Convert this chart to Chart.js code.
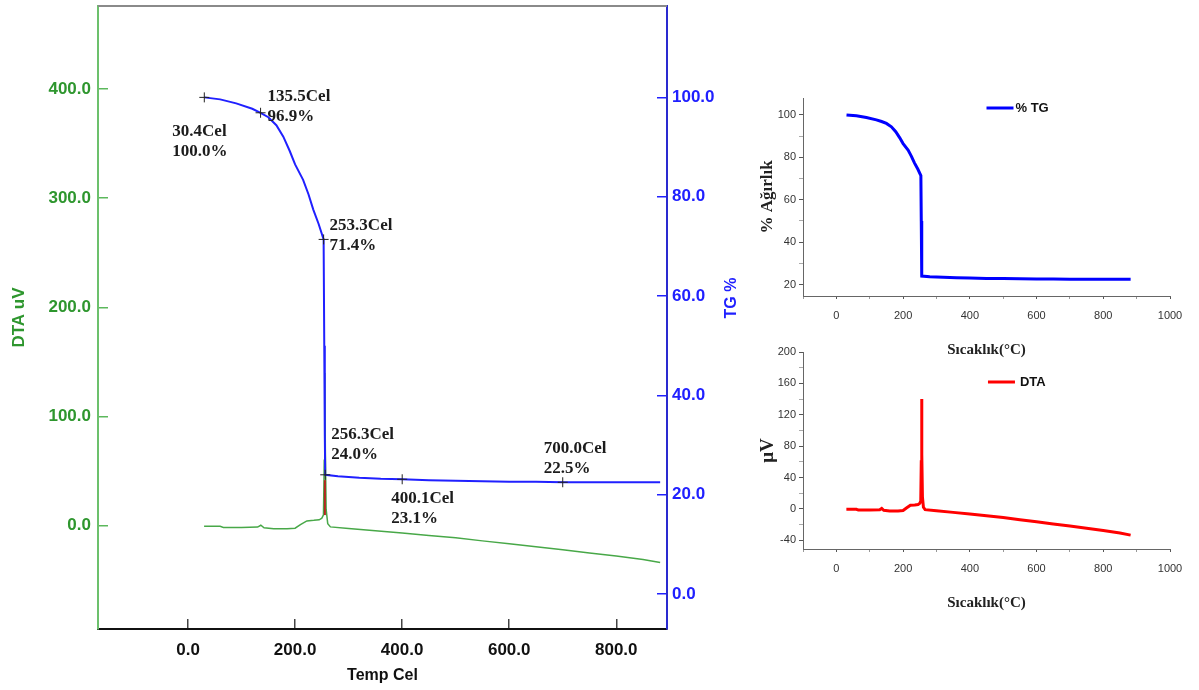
<!DOCTYPE html>
<html>
<head>
<meta charset="utf-8">
<script src="https://cdn.jsdelivr.net/npm/chart.js@4.4.1/dist/chart.umd.min.js"></script>
<style>
  body { margin: 0; background: #fff; }
  #wrap { position: relative; width: 1199px; height: 690px; overflow: hidden; background: #fff; }
  canvas { position: absolute; }
</style>
</head>
<body>
<div id="wrap">
  <canvas id="mainChart" width="760" height="690" style="left:0;top:0"></canvas>
  <canvas id="tgChart" width="459" height="290" style="left:740px;top:80px"></canvas>
  <canvas id="dtaChart" width="459" height="290" style="left:740px;top:330px"></canvas>
</div>
<script>
// TG curve, weight % against temperature (Cel)
const tgTemp = [30.4, 60, 90, 120, 135.5, 150, 165, 178, 190, 200, 215, 225, 234, 244, 253.3, 254.5, 255.5, 256.3, 280, 320, 360, 400.1, 450, 500, 550, 600, 650, 700.0, 750, 800, 850, 882];
const tgVal = [100.0, 99.6, 98.8, 97.7, 96.9, 96.0, 94.4, 92.1, 89.2, 86.5, 83.4, 80.5, 77.4, 74.5, 71.4, 50.0, 32.0, 24.0, 23.7, 23.4, 23.2, 23.1, 22.9, 22.8, 22.7, 22.6, 22.6, 22.5, 22.5, 22.5, 22.5, 22.5];

// DTA curve, uV against temperature
const dtaTemp = [30, 60, 66, 100, 130, 136, 142, 160, 185, 200, 210, 222, 235, 245, 250, 253, 254.5, 255.5, 256.5, 258, 261, 266, 300, 350, 400, 450, 500, 550, 600, 650, 700, 750, 800, 850, 882];
const dtaVal = [-0.5, -0.5, -1.5, -1.5, -1.2, 0.5, -1.8, -2.8, -2.8, -2.2, 1.0, 4.5, 5.0, 5.5, 7.0, 10.0, 60, 140, 70, 15, 2, -1.0, -2.5, -4.5, -6.5, -8.8, -11.0, -13.8, -16.5, -19.2, -22.0, -24.8, -27.6, -30.8, -33.5];

// red piece at the foot of the exotherm peak
const peakTemp = [255.7, 255.7];
const peakVal = [9.8, 41.8];

// marked TG points
const noteTemp = [30.4, 135.5, 253.3, 256.3, 400.1, 700.0];
const noteTg = [100.0, 96.9, 71.4, 24.0, 23.1, 22.5];

// tick labels
const mainXTicks = [0, 200, 400, 600, 800];
const dtaTicks = [0, 100, 200, 300, 400];
const tgTicks = [0, 20, 40, 60, 80, 100];
const smallXLabels = [0, 200, 400, 600, 800, 1000];
const smallTgLabels = [20, 40, 60, 80, 100];
const smallDtaLabels = [-40, 0, 40, 80, 120, 160, 200];

// text offsets of the notes from their point (px): [dx, dy of first line]
const noteOffsets = [[-32, 34], [7, -16], [6, -14], [6, -40], [-11, 19], [-19, -34]];

const pts = (xs, ys) => xs.map((x, i) => ({ x, y: ys[i] }));
const sans = (size) => ({ family: "'Liberation Sans', Arial, sans-serif", size, weight: 'bold' });
const plain = (size) => ({ family: "'Liberation Sans', Arial, sans-serif", size });
const serif = (size) => ({ family: "'Liberation Serif', 'Times New Roman', serif", size, weight: 'bold' });

const green = '#2e962e';
const blue = '#2020ff';

Chart.defaults.animation = false;
Chart.defaults.responsive = false;
Chart.defaults.devicePixelRatio = 1;

// y axes of the main panel: no extra room for half labels at the ends
const noEndPadding = (s, w) => { s.width = w; s.paddingTop = 0; s.paddingBottom = 0; };

const mainExtras = {
  id: 'mainExtras',
  afterDraw(chart) {
    const { ctx, chartArea, scales: { x, yTg } } = chart;
    ctx.save();
    // grey frame line on top
    ctx.strokeStyle = '#8a8a8a';
    ctx.lineWidth = 2;
    ctx.beginPath();
    ctx.moveTo(chartArea.left, chartArea.top);
    ctx.lineTo(chartArea.right, chartArea.top);
    ctx.stroke();

    // right axis title reads bottom to top
    ctx.fillStyle = blue;
    ctx.font = "bold 16px 'Liberation Sans', Arial, sans-serif";
    ctx.textAlign = 'center';
    ctx.textBaseline = 'middle';
    ctx.translate(732, 298);
    ctx.rotate(-Math.PI / 2);
    ctx.fillText('TG %', 0, 0);
    ctx.restore();

    // notes
    ctx.save();
    ctx.font = "bold 17px 'Liberation Serif', 'Times New Roman', serif";
    ctx.fillStyle = '#1c1c1c';
    ctx.textBaseline = 'middle';
    noteTemp.forEach((t, i) => {
      const px = x.getPixelForValue(t);
      const py = yTg.getPixelForValue(noteTg[i]);
      const [dx, dy] = noteOffsets[i];
      ctx.fillText(t.toFixed(1) + 'Cel', px + dx, py + dy);
      ctx.fillText(noteTg[i].toFixed(1) + '%', px + dx, py + dy + 20);
    });
    ctx.restore();
  }
};

new Chart(document.getElementById('mainChart'), {
  type: 'line',
  data: {
    datasets: [
      { label: 'marks', data: pts(noteTemp, noteTg), yAxisID: 'yTg', showLine: false,
        pointStyle: 'cross', pointRadius: 5, pointBorderColor: '#222', pointBorderWidth: 1, order: 0 },
      { label: 'TG %', data: pts(tgTemp, tgVal), yAxisID: 'yTg', borderColor: blue,
        borderWidth: 2, pointRadius: 0, order: 1 },
      { label: 'DTA peak', data: pts(peakTemp, peakVal), yAxisID: 'yDta', borderColor: '#b3261e',
        borderWidth: 2, pointRadius: 0, order: 2 },
      { label: 'DTA uV', data: pts(dtaTemp, dtaVal), yAxisID: 'yDta', borderColor: '#48a848',
        borderWidth: 1.5, pointRadius: 0, order: 3 }
    ]
  },
  options: {
    layout: { padding: { top: 6, left: 0, right: 0, bottom: 0 } },
    plugins: { legend: { display: false }, tooltip: { enabled: false } },
    scales: {
      x: {
        type: 'linear', position: 'bottom', min: -168.2, max: 894.8,
        afterBuildTicks: s => { s.ticks = mainXTicks.map(v => ({ value: v })); },
        afterFit: s => { s.height = 61; s.paddingLeft = 0; s.paddingRight = 0; },
        grid: { drawOnChartArea: false, tickLength: -10, color: '#444', lineWidth: 1.5 },
        border: { color: '#111', width: 2 },
        ticks: { padding: 21, color: '#111', font: sans(17), autoSkip: false, maxRotation: 0,
          callback: v => v.toFixed(1) },
        title: { display: true, text: 'Temp Cel', color: '#111', font: sans(16), padding: { top: 0, bottom: 5 } }
      },
      yDta: {
        type: 'linear', position: 'left', min: -94.5, max: 476,
        afterBuildTicks: s => { s.ticks = dtaTicks.map(v => ({ value: v })); },
        afterFit: s => noEndPadding(s, 98),
        grid: { drawOnChartArea: false, tickLength: -10, color: '#5cb85c', lineWidth: 1.5 },
        border: { color: '#6cc06c', width: 2 },
        ticks: { padding: 17, color: green, font: sans(17), callback: v => v.toFixed(1) },
        title: { display: true, text: 'DTA uV', color: green, font: sans(17), padding: { top: 9, bottom: 0 } }
      },
      yTg: {
        type: 'linear', position: 'right', min: -7.05, max: 118.4,
        afterBuildTicks: s => { s.ticks = tgTicks.map(v => ({ value: v })); },
        afterFit: s => noEndPadding(s, 93),
        grid: { drawOnChartArea: false, tickLength: -10, color: blue, lineWidth: 1.5 },
        border: { color: '#2a2ad0', width: 2 },
        ticks: { padding: 15, color: blue, font: sans(17), callback: v => v.toFixed(1) }
      }
    }
  },
  plugins: [mainExtras]
});

// legend drawn inside the plot, as in the small panels
const inlineLegend = {
  id: 'inlineLegend',
  afterDraw(chart, args, opts) {
    const { ctx, chartArea } = chart;
    const ds = chart.data.datasets[0];
    const x0 = chartArea.left + opts.at * (chartArea.right - chartArea.left);
    const y0 = chartArea.top + opts.dy;
    ctx.save();
    ctx.strokeStyle = ds.borderColor;
    ctx.lineWidth = 3;
    ctx.beginPath();
    ctx.moveTo(x0, y0);
    ctx.lineTo(x0 + 27, y0);
    ctx.stroke();
    ctx.fillStyle = '#111';
    ctx.font = "bold 13px 'Liberation Sans', Arial, sans-serif";
    ctx.textBaseline = 'middle';
    ctx.fillText(ds.label, x0 + 29 + opts.gap, y0);
    ctx.restore();
  }
};

function smallChart(id, cfg) {
  return new Chart(document.getElementById(id), {
    type: 'line',
    data: {
      datasets: [{ label: cfg.label, data: pts(cfg.xs, cfg.ys), borderColor: cfg.color,
        borderWidth: 3, pointRadius: 0 }]
    },
    options: {
      layout: { padding: { top: cfg.top, left: 0, right: 29, bottom: 0 } },
      plugins: { legend: { display: false }, tooltip: { enabled: false },
        inlineLegend: cfg.legend },
      scales: {
        x: {
          type: 'linear', min: -100, max: 1000,
          afterFit: s => { s.height = cfg.xHeight; },
          grid: { drawOnChartArea: false, tickLength: 3,
            color: c => smallXLabels.includes(c.tick && c.tick.value) ? '#555' : '#999' },
          border: { color: '#666', width: 1 },
          ticks: { stepSize: 100, includeBounds: false, autoSkip: false, maxRotation: 0,
            padding: cfg.xPad, color: '#333', font: plain(11),
            callback: v => smallXLabels.includes(v) ? v : '' },
          title: { display: true, text: 'Sıcaklık(°C)', color: '#222', font: serif(15),
            padding: { top: 0, bottom: cfg.titlePad } }
        },
        y: {
          type: 'linear', min: cfg.yMin, max: cfg.yMax,
          afterFit: s => { s.width = 63; },
          grid: { drawOnChartArea: false, tickLength: 4,
            color: c => cfg.yLabels.includes(c.tick && c.tick.value) ? '#555' : '#aaa' },
          border: { color: '#666', width: 1 },
          ticks: { stepSize: cfg.yStep, includeBounds: false, autoSkip: false, padding: 3,
            color: '#333', font: plain(11),
            callback: v => cfg.yLabels.includes(v) ? v : '' },
          title: { display: true, text: cfg.yTitle, color: '#222', font: serif(cfg.yTitleSize),
            padding: { top: 17, bottom: 0 } }
        }
      }
    },
    plugins: [inlineLegend]
  });
}

smallChart('tgChart', {
  label: '% TG', xs: tgTemp, ys: tgVal, color: '#0000ff',
  top: 18, xHeight: 74, xPad: 10, titlePad: 11,
  yMin: 14.6, yMax: 108, yStep: 10, yLabels: smallTgLabels,
  yTitle: '% Ağırlık', yTitleSize: 17,
  legend: { at: 0.5, dy: 10, gap: 0 }
});

smallChart('dtaChart', {
  label: 'DTA', xs: dtaTemp, ys: dtaVal, color: '#ff0000',
  top: 22, xHeight: 71, xPad: 10, titlePad: 8,
  yMin: -51.2, yMax: 200, yStep: 20, yLabels: smallDtaLabels,
  yTitle: 'μV', yTitleSize: 19,
  legend: { at: 0.504, dy: 30, gap: 3 }
});
</script>
</body>
</html>
